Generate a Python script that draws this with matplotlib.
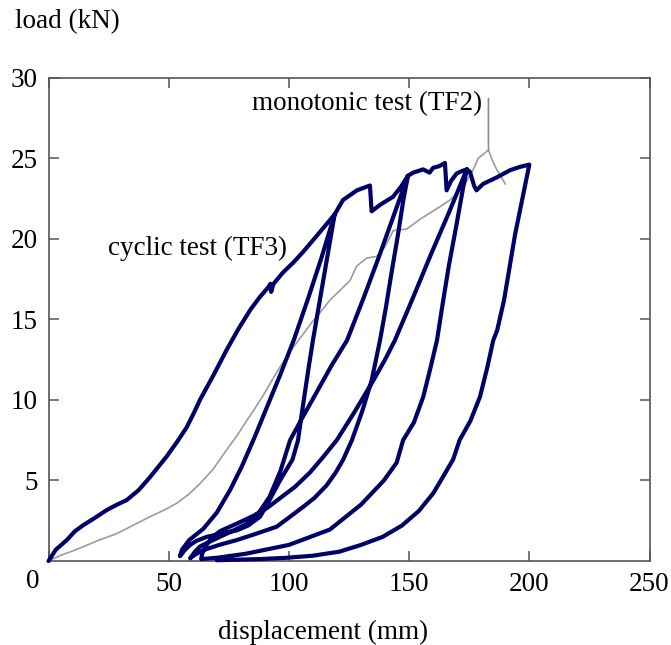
import matplotlib
matplotlib.use("Agg")
import matplotlib.pyplot as plt

# cyclic test TF3: loading envelope, unload/reload loops (displacement mm, load kN)
env_0_disp = [0, 3, 7.6, 11, 14.5, 19, 24.2, 28.5, 32.5, 37.5, 42.2, 46, 49.2, 53.5, 57.5, 60.5, 63,
              68.5, 74.1, 79, 84, 88, 91.5, 92.3, 92.6, 93.6, 97.5, 101.7, 106, 110, 114.5, 119]
env_0_load = [0, 0.7, 1.3, 1.85, 2.23, 2.65, 3.16, 3.5, 3.78, 4.4, 5.2, 5.9, 6.5, 7.4, 8.3, 9.2, 10.0,
              11.5, 13.1, 14.4, 15.6, 16.4, 17.0, 17.2, 16.7, 17.2, 17.9, 18.5, 19.2, 19.9, 20.7, 21.5]

unl_1_disp = [119, 116.7, 114.5, 112.2, 110, 108.2, 106.5, 105, 103.8, 101.5, 96.3, 92, 88, 83, 78.3,
              72, 65.8, 61.5, 58.9, 56.5, 55.2, 54.7]
unl_1_load = [21.5, 19.5, 17.6, 15.6, 13.7, 12.0, 10.3, 8.8, 7.5, 6.3, 5.0, 3.8, 2.75, 2.2, 1.9,
              1.7, 1.5, 1.25, 1.0, 0.65, 0.4, 0.3]
rel_1_disp = [54.7, 55.5, 58.5, 64.4, 70, 75.5, 80.5, 85.5, 91, 96.5, 102, 108, 113.5, 119]
rel_1_load = [0.3, 0.7, 1.3, 2.0, 3.0, 4.4, 5.9, 7.6, 9.6, 11.6, 13.7, 16.3, 18.8, 21.5]

env_1_disp = [119, 122.5, 128.3, 133.7, 134.4, 137.9, 143.3, 146.5, 149.5]
env_1_load = [21.5, 22.4, 23.0, 23.3, 21.7, 22.1, 22.6, 23.2, 23.9]

unl_2_disp = [149.5, 147.6, 145.2, 142.7, 140.3, 137.9, 134.4, 130.5, 126.2, 122.6, 119.5, 115.7,
              110.5, 106, 100.5, 94.9, 86.5, 78.3, 71, 64.4, 61, 58.9]
unl_2_load = [23.9, 22.4, 20.1, 17.9, 15.7, 13.7, 11.2, 9.3, 7.5, 6.3, 5.5, 4.7,
              3.9, 3.37, 2.75, 2.13, 1.7, 1.3, 1.0, 0.68, 0.4, 0.17]
rel_2_disp = [58.9, 59.6, 61, 63, 67, 71.3, 77, 82.4, 87.5, 92, 96.5, 100.5, 106, 112, 118, 124.2,
              131, 137.5, 143.5, 149.5]
rel_2_load = [0.17, 0.3, 0.6, 0.9, 1.2, 1.5, 1.9, 2.3, 3.0, 4.0, 5.6, 7.5, 9.0, 10.6, 12.2, 13.7,
              16.3, 18.9, 21.4, 23.9]

env_2_disp = [149.5, 151.7, 155.8, 158.5, 160, 162.5, 164.9, 165.6, 167.5, 169.8, 172, 174]
env_2_load = [23.9, 24.1, 24.3, 24.1, 24.4, 24.5, 24.7, 23.0, 23.6, 24.05, 24.2, 24.3]

unl_3_disp = [174, 172.5, 169.5, 166.5, 164, 161.6, 158.9, 155.9, 152, 147.5, 144.8, 139.5, 130,
              117, 100, 82, 70, 63.5]
unl_3_load = [24.3, 23.2, 20.7, 18.3, 16.0, 13.7, 12.0, 10.2, 8.6, 7.5, 6.1, 5.0, 3.5,
              1.95, 1.0, 0.45, 0.2, 0.12]
rel_3_disp = [63.5, 64, 65.5, 68, 71.3, 78, 85.2, 91, 96.3, 102.5, 108.8, 114.5, 119.9, 127.5,
              135.1, 140, 144.1, 151.5, 159, 166.5, 174]
rel_3_load = [0.12, 0.5, 0.95, 1.45, 1.85, 2.3, 2.8, 3.3, 3.9, 4.6, 5.5, 6.5, 7.5, 9.3,
              11.2, 12.5, 13.7, 16.3, 19.0, 21.6, 24.3]

env_3_disp = [174, 175.3, 177, 178, 180.8, 186.4, 192, 196, 200]
env_3_load = [24.3, 24.15, 23.3, 23.0, 23.4, 23.8, 24.25, 24.45, 24.6]

unl_4_disp = [200, 197, 194, 191.5, 189.5, 186.6, 185, 182.5, 179.5, 175.5, 171, 168.3, 164, 160,
              154, 147, 139, 130, 121, 110, 99, 88, 78, 70]
unl_4_load = [24.6, 22.4, 20.2, 18.0, 16.2, 14.3, 13.7, 12.0, 10.2, 8.7, 7.5, 6.3, 5.2, 4.2,
              3.1, 2.2, 1.5, 1.0, 0.58, 0.33, 0.2, 0.12, 0.08, 0.05]

# monotonic test TF2
mono_disp = [0, 5, 10, 14.5, 21, 28.4, 35, 42.2, 48, 53.3, 58, 63, 68.5, 74.1, 78.5, 82.4, 86, 89.4,
             92.5, 96.3, 101, 106, 109.5, 112.9, 117.1, 119.9, 125.4, 128.2, 132.4, 136.5, 140,
             143.4, 149, 154.5, 158.7, 163, 167, 172.5, 176.7, 178.8, 183, 184.5, 186.4, 189.2, 190]
mono_load = [0, 0.35, 0.62, 0.89, 1.3, 1.7, 2.2, 2.75, 3.15, 3.58, 4.1, 4.8, 5.7, 6.9, 7.8, 8.7,
             9.5, 10.3, 11.1, 12.05, 13.1, 14.1, 14.8, 15.4, 16.2, 16.6, 17.4, 18.3, 18.8, 18.9,
             19.5, 20.5, 20.6, 21.2, 21.6, 22.0, 22.4, 23.2, 24.3, 25.0, 25.5, 24.9, 24.3, 23.6, 23.4]
mono_peak = (183, 25.5)

x_ticks = [0, 50, 100, 150, 200, 250]
y_ticks = [5, 10, 15, 20, 25, 30]

cyc_disp = (env_0_disp + unl_1_disp + rel_1_disp + env_1_disp + unl_2_disp + rel_2_disp
            + env_2_disp + unl_3_disp + rel_3_disp + env_3_disp + unl_4_disp)
cyc_load = (env_0_load + unl_1_load + rel_1_load + env_1_load + unl_2_load + rel_2_load
            + env_2_load + unl_3_load + rel_3_load + env_3_load + unl_4_load)

plt.rcParams['font.family'] = ['Liberation Serif', 'DejaVu Serif']
fs = 19.5
navy = '#000066'
grey = '#9c9c9c'
spine_c = '#555555'

fig = plt.figure(figsize=(6.71, 6.45), dpi=100)
ax = fig.add_axes([0.0723, 0.1302, 0.8957, 0.7496])

ax.plot(mono_disp, mono_load, color=grey, lw=1.2, zorder=2)
ax.plot(cyc_disp, cyc_load, color=navy, lw=3.0, solid_joinstyle='round',
        solid_capstyle='round', clip_on=False, zorder=3)

ax.set_xlim(0, 250)
ax.set_ylim(0, 30)
ax.set_xticks(x_ticks)
ax.set_yticks(y_ticks)
ax.set_xticklabels([''] + [str(v) for v in x_ticks[1:]])
ax.tick_params(direction='in', length=7, width=1.1, color=spine_c, labelsize=fs,
               top=True, right=True, pad=8)
for s in ax.spines.values():
    s.set_color(spine_c)
    s.set_linewidth(1.2)

# origin label sits a little left of the corner
ax.text(-6.4, -0.043, '0', transform=ax.get_xaxis_transform(), ha='center', va='center',
        fontsize=fs)

ax.text(84.6, 28.4, 'monotonic test (TF2)', ha='left', va='center', fontsize=fs)
ax.annotate('', xy=mono_peak, xytext=(mono_peak[0], 28.7),
            arrowprops=dict(arrowstyle='-', color='#8a8a8a', lw=1.2, shrinkA=0, shrinkB=0))
ax.text(24.7, 19.4, 'cyclic test (TF3)', ha='left', va='center', fontsize=fs)

fig.text(15 / 671, 1 - 22 / 645, 'load (kN)', ha='left', va='center', fontsize=fs)
fig.text(323 / 671, 1 - 632 / 645, 'displacement (mm)', ha='center', va='center', fontsize=fs)

fig.savefig('out.png', dpi=100)
